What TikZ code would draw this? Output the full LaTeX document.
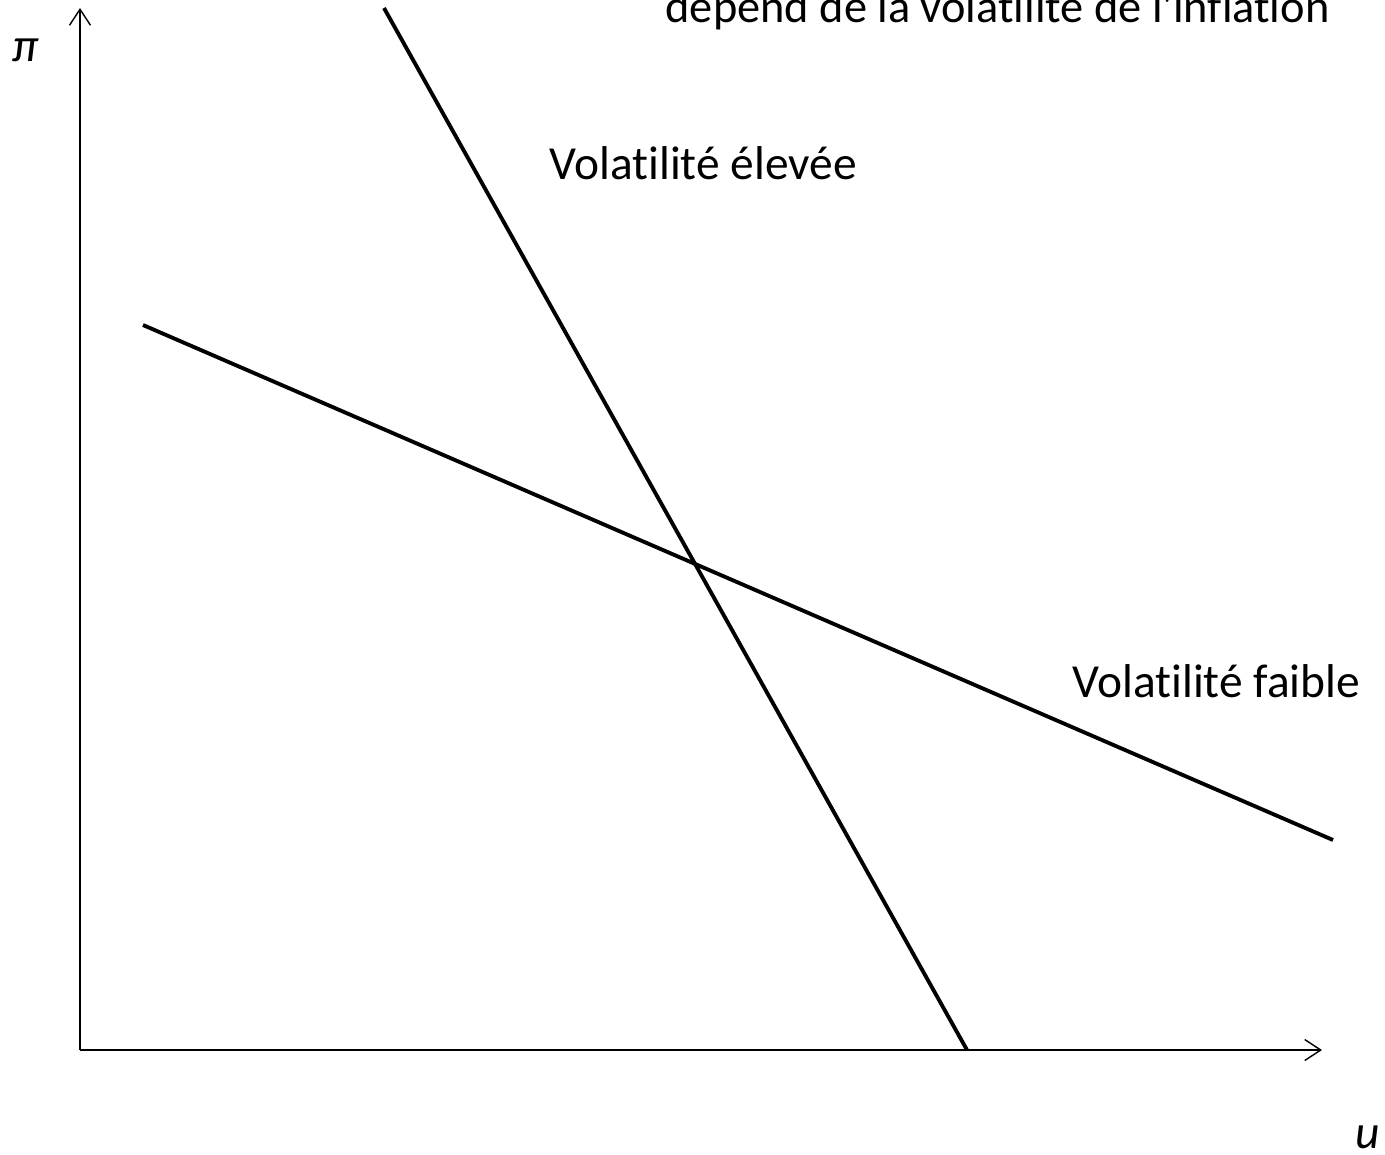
\documentclass[tikz,border=0pt]{standalone}
\usepackage{fontspec}
\setmainfont{Carlito}[Ligatures={TeXOff,NoCommon}]
\usetikzlibrary{arrows.meta}

\begin{document}
\begin{tikzpicture}[x=0.02cm,y=-0.02cm,
    axis/.style={line width=0.8pt,-{Straight Barb[length=0.32cm,width=0.42cm,line width=0.8pt]}},
    curve/.style={line width=2.2pt},
    lbl/.style={font=\fontsize{27}{32}\selectfont,inner sep=0pt,anchor=base west}]
    \useasboundingbox (0,0) rectangle (1385,1154);
    \clip (0,0) rectangle (1385,1154);
    % axes
    \coordinate (O) at (80,1050);
    \coordinate (ytop) at (80,8);
    \coordinate (xend) at (1322,1050);
    \draw[axis] (O) -- (ytop);
    \draw[axis] (O) -- (xend);
    \node[lbl] (pi) at (12,61) {\itshape π};
    \node[lbl] (u) at (1355,1148) {\itshape u};
    % the two curves
    \coordinate (hiA) at (384,8);
    \coordinate (hiB) at (967,1050);
    \coordinate (loA) at (143,325);
    \coordinate (loB) at (1333,840);
    \draw[curve] (hiA) -- (hiB);
    \draw[curve] (loA) -- (loB);
    \node[lbl] (hi) at (549,179) {Volatilité élevée};
    \node[lbl] (lo) at (1072,697) {Volatilité faible};
    % title, cut off at the top
    \node[lbl,anchor=base east,font=\fontsize{26.4}{31}\selectfont] (title) at (1330,22) {dépend de la volatilité de l'inflation};
\end{tikzpicture}
\end{document}
